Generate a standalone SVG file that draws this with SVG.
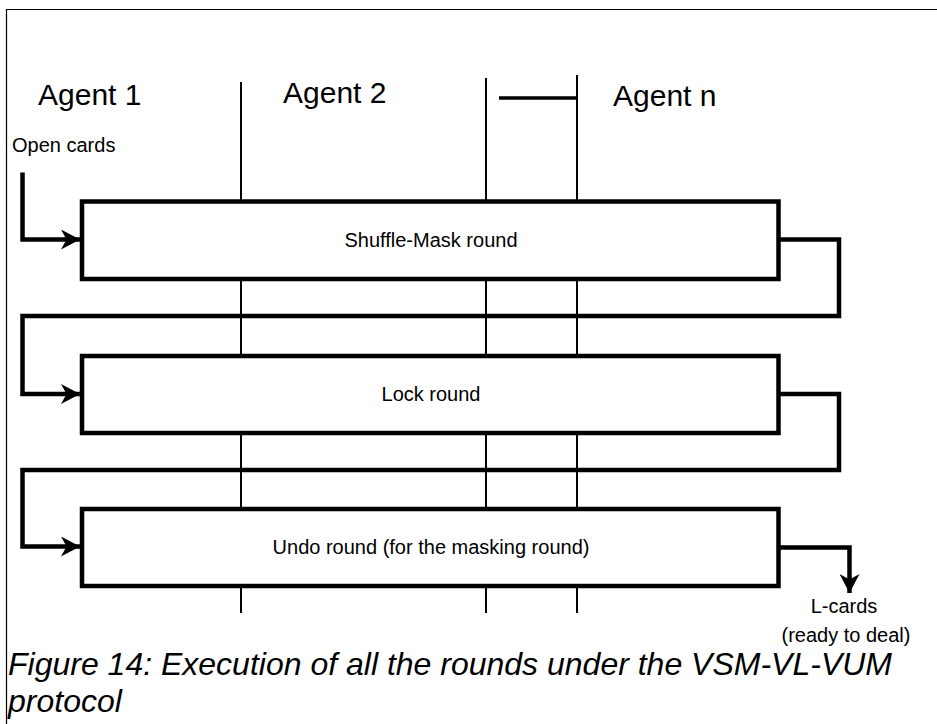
<svg xmlns="http://www.w3.org/2000/svg" width="937" height="724" viewBox="0 0 937 724">
  <style>
    .frame { fill: none; stroke: #000; stroke-width: 1.2; }
    .lane { fill: none; stroke: #000; stroke-width: 2; }
    .box { fill: #fff; stroke: #000; stroke-width: 4.5; }
    .flow { fill: none; stroke: #000; stroke-width: 4.5; stroke-linejoin: miter; }
    .agent { font-family: "Liberation Sans", Arial, sans-serif; font-size: 30px; fill: #000; }
    .label { font-family: "Liberation Sans", Arial, sans-serif; font-size: 20px; fill: #000; }
    .caption { font-family: "Liberation Sans", Arial, sans-serif; font-size: 32px; font-style: italic; fill: #000; }
  </style>
  <defs>
    <marker id="arrow" markerUnits="userSpaceOnUse" markerWidth="20" markerHeight="20" viewBox="0 0 20 20" refX="19" refY="10" orient="auto">
      <path d="M0,0 L19,10 L0,20 L5.5,10 Z" fill="#000"/>
    </marker>
  </defs>

  <rect width="937" height="724" fill="#fff"/>

  <!-- page frame -->
  <path class="frame" d="M6.5,724 V9.5 H937"/>

  <!-- agent lanes -->
  <g id="lanes">
    <line class="lane" x1="241" y1="82" x2="241" y2="613"/>
    <line class="lane" x1="486" y1="78" x2="486" y2="613"/>
    <line class="lane" x1="577" y1="75" x2="577" y2="613"/>
    <line x1="499" y1="98" x2="577" y2="98" stroke="#000" stroke-width="3.5"/>
  </g>

  <g id="agent-labels">
    <text class="agent" x="38" y="105">Agent 1</text>
    <text class="agent" x="283" y="103">Agent 2</text>
    <text class="agent" x="613" y="106">Agent n</text>
  </g>

  <!-- rounds -->
  <g id="shuffle-mask-round">
    <rect class="box" x="82" y="201.5" width="696.5" height="77.5"/>
    <text class="label" x="431" y="247" text-anchor="middle">Shuffle-Mask round</text>
  </g>
  <g id="lock-round">
    <rect class="box" x="82" y="356" width="696.5" height="77"/>
    <text class="label" x="431" y="401" text-anchor="middle">Lock round</text>
  </g>
  <g id="undo-round">
    <rect class="box" x="82" y="509" width="696.5" height="77"/>
    <text class="label" x="431" y="554" text-anchor="middle">Undo round (for the masking round)</text>
  </g>

  <!-- flow between rounds -->
  <g id="connectors">
    <path class="flow" d="M22.5,172.5 V239.5 H80" marker-end="url(#arrow)"/>
    <path class="flow" d="M780,239.5 H839 V316 H22.5 V394 H80" marker-end="url(#arrow)"/>
    <path class="flow" d="M780,394 H839 V470 H22.5 V546.5 H80" marker-end="url(#arrow)"/>
    <path class="flow" d="M780,547.5 H849.5 V593" marker-end="url(#arrow)"/>
  </g>

  <g id="io-labels">
    <text class="label" x="12" y="152">Open cards</text>
    <text class="label" x="844" y="613" text-anchor="middle">L-cards</text>
    <text class="label" x="846" y="642" text-anchor="middle">(ready to deal)</text>
  </g>

  <g id="caption">
    <text class="caption" x="8" y="675">Figure 14: Execution of all the rounds under the VSM-VL-VUM</text>
    <text class="caption" x="8" y="712">protocol</text>
  </g>
</svg>
